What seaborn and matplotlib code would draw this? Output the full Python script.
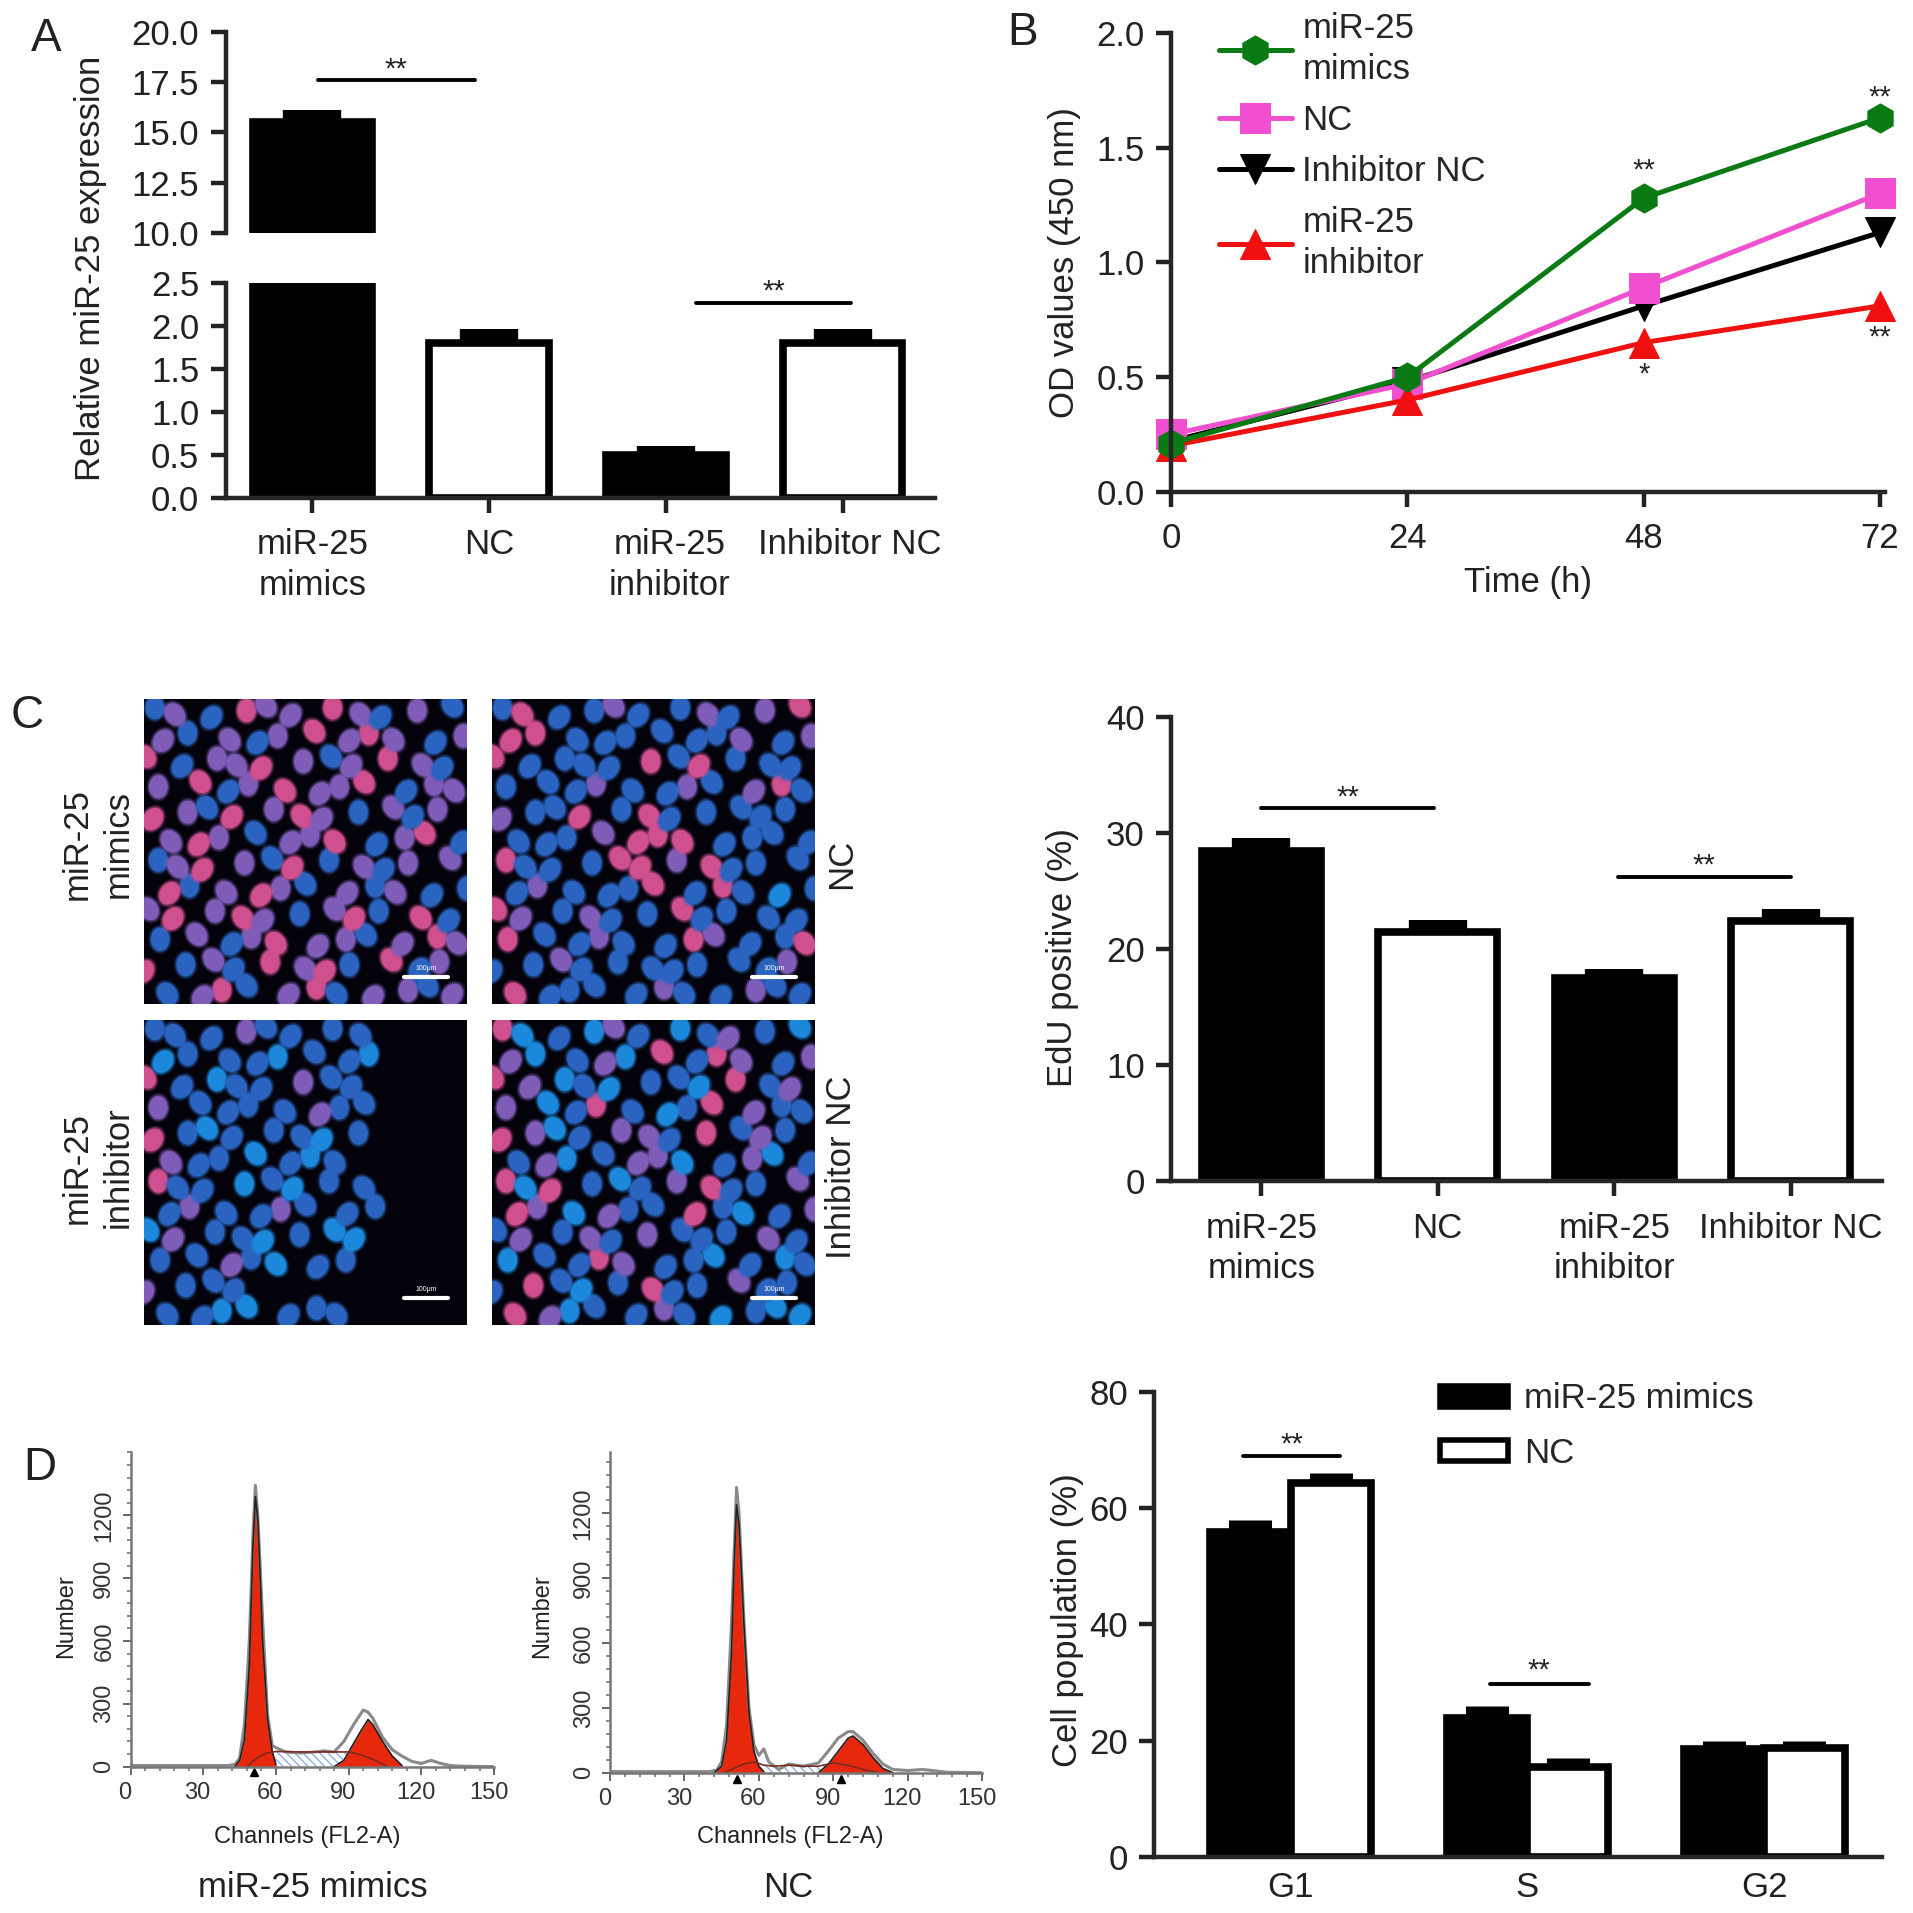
import matplotlib
matplotlib.use("Agg")
import matplotlib.pyplot as plt
from matplotlib.patches import Patch
from matplotlib.path import Path
from matplotlib.transforms import Affine2D, ScaledTranslation
import pandas as pd
import seaborn as sns

# values
groups = ["miR-25\nmimics", "NC", "miR-25\ninhibitor", "Inhibitor NC"]
mir_vals = [15.5, 1.80, 0.50, 1.80]
mir_err = [0.6, 0.16, 0.10, 0.16]
edu_vals = [28.5, 21.5, 17.5, 22.4]
edu_err = [1.1, 1.0, 0.8, 1.1]

time_h = [0, 24, 48, 72]
od_mimics = [0.21, 0.50, 1.28, 1.63]
od_nc = [0.25, 0.47, 0.89, 1.30]
od_inh_nc = [0.22, 0.48, 0.81, 1.13]
od_inhibitor = [0.20, 0.40, 0.65, 0.81]

phases = ["G1", "S", "G2"]
pop_mimics = [55.9, 23.9, 18.5]
pop_mimics_err = [2.1, 2.1, 1.5]
pop_nc = [64.3, 15.5, 18.7]
pop_nc_err = [1.7, 1.5, 1.3]

# flow histograms, channel / count pairs
ch1 = [0, 40, 43, 45, 47, 49, 50.5, 51.5, 52.5, 54.5, 56.5, 58.5, 61, 64, 70, 76, 80, 84, 88, 92, 96, 98, 100, 104, 108, 112, 116, 120, 124, 128, 132, 136, 150]
num1 = [5, 5, 10, 40, 200, 600, 1100, 1343, 1200, 700, 250, 100, 85, 70, 65, 70, 75, 70, 120, 200, 270, 260, 230, 140, 80, 50, 25, 15, 30, 15, 5, 2, 0]
g1_ch1 = [43, 45, 47, 49, 50.5, 51.5, 52.5, 53.5, 54.5, 56.5, 58.5, 60]
g1_num1 = [0, 30, 130, 480, 1050, 1290, 1180, 900, 600, 230, 70, 10]
g2_ch1 = [84, 88, 90, 92, 95, 98, 100, 104, 108, 112]
g2_num1 = [0, 30, 70, 110, 170, 225, 200, 120, 50, 5]
s_ch1 = [48, 52, 56, 60, 70, 78, 84, 90, 94, 100, 106]
s_num1 = [0, 40, 65, 72, 70, 70, 70, 70, 60, 35, 0]
ch2 = [0, 40, 43, 45, 47, 49, 51, 52, 54, 56, 58, 60, 62, 64, 68, 72, 78, 84, 88, 92, 96, 98, 102, 106, 110, 114, 120, 126, 130, 136, 150]
num2 = [5, 5, 12, 50, 220, 700, 1320, 1200, 700, 300, 130, 80, 110, 50, 15, 40, 30, 45, 100, 160, 190, 190, 150, 90, 40, 15, 10, 15, 10, 2, 0]
g1_ch2 = [42, 45, 47, 49, 50, 51, 52, 54, 56, 58, 60, 62]
g1_num2 = [0, 30, 150, 560, 950, 1240, 1150, 680, 280, 100, 30, 5]
g2_ch2 = [84, 88, 92, 96, 98, 102, 106, 110, 114]
g2_num2 = [0, 40, 100, 160, 170, 130, 70, 20, 0]
s_ch2 = [46, 50, 54, 58, 62, 66, 72, 78, 84, 90, 96, 102, 108]
s_num2 = [0, 20, 40, 50, 35, 30, 35, 30, 30, 45, 35, 15, 0]

# nuclei maps of the four micrographs, p pink, m purple, b blue, c cyan
img_mimics = ["bmbpmmpmbmb", "mbmbmpmpmbm", "pbmmpmbmpmb", "mpbmpmmpbmm", "pmbpmpmbmbm", "mpmbmmpbmpb",
              "bmpmbpbmbmm", "pbmpmbmbmbb", "mpmpmbmpbpb", "bmbmpmmbmpm", "pbmbpmpbpbm", "bmpbmpbmmbm"]
img_nc = ["bpbbmbbmbmp", "ppbbbbbbmbm", "pbbbbpbpbbb", "bbbmbbmbmpb", "mbbpbpbbbbb", "bbbmpppbbbb",
          "pbbbppmpbbb", "bmbbbpbpbcb", "pmbmbbpbbbb", "pbbmbbpmbbp", "bbmbbbbbbbm", "pbbbbmbbmbb"]
img_inh = ["bbbmbbbb...", "cbbbcbbc...", "pbcbbmbb...", "mbbbbmbb...", "pbcbbbcb...", "mbbcbcb....",
           "pbbcbcbb...", "bmbbmbbb...", "cmbbcbcc...", "bbmbcbb....", "mbbb.......", "bbccbbb...."]
img_inh_nc = ["pcbcmbcbmbc", "mcbmcpbpmbm", "pmcbcbbcpbm", "mcbpbcbpmbb", "pmcbmmbpbmb", "bmcbmmcbmcb",
              "pcpbcbmpbbm", "pmcmbbpbcbm", "bmbmbmbbbmb", "cbbpmbbcbcb", "bpbcbpbbmbb", "pmcbbmbcbcc"]

nuc_colors = {"p": "#cf4f8f", "m": "#7f5cb8", "b": "#2a64c0", "c": "#1c88dc"}
nudge_x = [0.12, -0.2, 0.05, 0.24, -0.1, -0.26, 0.17]
nudge_y = [-0.16, 0.1, 0.22, -0.05, -0.24, 0.14]

S = 1568.0  # layout numbers below are on a 1568 wide sheet
sns.set_style("ticks")
plt.rcParams["font.family"] = ["Liberation Sans", "DejaVu Sans"]
fs = 25
fig = plt.figure(figsize=(19.13, 19.13), dpi=100)


def box(x0, y0, x1, y1):
    return fig.add_axes([x0 / S, 1 - y1 / S, (x1 - x0) / S, (y1 - y0) / S])


def label(x, y, s, size=fs, **kw):
    fig.text(x / S, 1 - y / S, s, fontsize=size, ha="center", va="center", color="#222222", **kw)


def style_ax(ax):
    sns.despine(ax=ax)
    for side in ["left", "bottom"]:
        ax.spines[side].set_linewidth(3.2)
    ax.tick_params(width=3.2, length=11, labelsize=fs, colors="#222222")
    ax.tick_params(axis="x", pad=11)
    ax.tick_params(axis="y", pad=8)


def draw_bars(ax, names, vals, errs):
    df = pd.DataFrame({"group": names, "value": vals})
    sns.barplot(data=df, x="group", y="value", hue="group", palette=["black", "white", "black", "white"],
                saturation=1, edgecolor="black", linewidth=5.5, width=0.675, legend=False, ax=ax)
    ax.errorbar(range(len(names)), vals, yerr=[[0] * len(vals), errs], fmt="none", ecolor="black",
                elinewidth=42, capsize=0)
    ax.set_xlabel("")
    ax.set_ylabel("")
    style_ax(ax)


def sig(ax, x0, x1, y, star_y, stars="**"):
    ax.plot([x0, x1], [y, y], color="black", lw=2.8, clip_on=False)
    ax.text((x0 + x1) / 2, star_y, stars, ha="center", va="center", fontsize=21, color="#222222", clip_on=False)


# A, broken axis
ax_low = box(185, 232, 766, 408)
ax_top = box(185, 26, 766, 191)
for ax in [ax_low, ax_top]:
    draw_bars(ax, groups, mir_vals, mir_err)
    ax.set_xlim(-0.49, 3.52)
ax_low.set_ylim(0, 2.5)
ax_low.set_yticks([0, 0.5, 1, 1.5, 2, 2.5])
ax_low.set_yticklabels(["0.0", "0.5", "1.0", "1.5", "2.0", "2.5"])
ax_top.set_ylim(10, 20)
ax_top.set_yticks([10, 12.5, 15, 17.5, 20])
ax_top.set_yticklabels(["10.0", "12.5", "15.0", "17.5", "20.0"])
ax_top.spines["bottom"].set_visible(False)
ax_top.set_xticks([])
ax_low.set_xticks(range(4))
ax_low.set_xticklabels(groups, linespacing=1.3)
for t, px in zip(ax_low.get_xticklabels()[2:], [3, 6]):
    t.set_transform(t.get_transform() + ScaledTranslation(px * 1.22 / 100, 0, fig.dpi_scale_trans))
sig(ax_top, 0.03, 0.92, 17.6, 18.1)
sig(ax_low, 2.17, 3.05, 2.27, 2.4)
label(74, 220, "Relative miR-25 expression", rotation=90)

# B, growth curves
ax_b = box(960, 27, 1545, 403)
b_series = [("Inhibitor NC", od_inh_nc, "black", "v"), ("NC", od_nc, "#f050d0", "s"),
            ("miR-25\ninhibitor", od_inhibitor, "#f01010", "^"), ("miR-25\nmimics", od_mimics, "#0a7a14", "h")]
for name, vals, col, mark in b_series:
    sns.lineplot(x=time_h, y=vals, color=col, marker=mark, markersize=21, markeredgecolor=col,
                 linewidth=3.6, label=name, ax=ax_b, clip_on=False)
ax_b.set_xlim(0, 72.5)
ax_b.set_ylim(0, 2)
ax_b.set_xticks(time_h)
ax_b.set_yticks([0, 0.5, 1, 1.5, 2])
ax_b.set_yticklabels(["0.0", "0.5", "1.0", "1.5", "2.0"])
ax_b.set_xlabel("Time (h)", fontsize=fs, color="#222222", labelpad=8)
ax_b.set_ylabel("OD values (450 nm)", fontsize=fs, color="#222222", labelpad=11)
style_ax(ax_b)
hd, lb = ax_b.get_legend_handles_labels()
order = [3, 1, 0, 2]
leg = ax_b.legend([hd[i] for i in order], [lb[i] for i in order], loc="upper left", bbox_to_anchor=(0.023, 1.113),
                  frameon=False, fontsize=fs, handlelength=2.1, handletextpad=0.3, labelspacing=0.52)
for t in leg.get_texts():
    t.set_linespacing(1.3)
ax_b.text(48, 1.40, "**", ha="center", va="center", fontsize=21)
ax_b.text(72, 1.72, "**", ha="center", va="center", fontsize=21, clip_on=False)
ax_b.text(48, 0.51, "*", ha="center", va="center", fontsize=21)
ax_b.text(72, 0.67, "**", ha="center", va="center", fontsize=21, clip_on=False)

# C, micrographs
panels = [(img_mimics, 118, 573, 383, 823), (img_nc, 403, 573, 668, 823),
          (img_inh, 118, 836, 383, 1086), (img_inh_nc, 403, 836, 668, 1086)]
tilts = [0, 35, -35]
for rows, x0, y0, x1, y1 in panels:
    ax = box(x0, y0, x1, y1)
    ax.set_facecolor("#04030c")
    cells = []
    for r, row in enumerate(rows):
        for c, ch in enumerate(row):
            if ch != ".":
                n = r * 11 + c
                cells.append((c + 0.5 + 0.25 * (r % 2 * 2 - 1) + nudge_x[n % 7], r + 0.5 + nudge_y[n % 6], ch, n % 3))
    nuc = pd.DataFrame(cells, columns=["col", "row", "kind", "tilt"])
    for i, deg in enumerate(tilts):
        shape = Path.unit_circle().transformed(Affine2D().scale(0.8, 1.0).rotate_deg(deg))
        part = nuc[nuc["tilt"] == i]
        for size, alpha in [(450, 0.22), (360, 0.45), (280, 1.0)]:
            sns.scatterplot(data=part, x="col", y="row", hue="kind", palette=nuc_colors, s=size, linewidth=0,
                            alpha=alpha, marker=shape, legend=False, ax=ax)
    ax.plot([8.85, 10.35], [10.95, 10.95], color="white", lw=3)
    ax.text(9.6, 10.6, "100μm", color="white", fontsize=5, ha="center", va="center")
    ax.set_xlim(0, 11)
    ax.set_ylim(12, 0)
    ax.set_xticks([])
    ax.set_yticks([])
    ax.set_xlabel("")
    ax.set_ylabel("")
    for sp in ax.spines.values():
        sp.set_visible(False)
label(80, 692, "miR-25\nmimics", rotation=90, linespacing=1.3)
label(690, 708, "NC", rotation=90)
label(80, 957, "miR-25\ninhibitor", rotation=90, linespacing=1.3)
label(690, 957, "Inhibitor NC", rotation=90)

# C, EdU bars
ax_c = box(960, 588, 1543, 968)
draw_bars(ax_c, groups, edu_vals, edu_err)
ax_c.set_xlim(-0.51, 3.52)
ax_c.set_ylim(0, 40)
ax_c.set_yticks([0, 10, 20, 30, 40])
ax_c.set_xticks(range(4))
ax_c.set_xticklabels(groups, linespacing=1.3)
sig(ax_c, 0, 0.98, 32.2, 33.1)
sig(ax_c, 2.02, 3.0, 26.2, 27.2)
label(871, 785, "EdU positive (%)", rotation=90)


# D, flow histograms
def flow(ax, ch, num, g1_ch, g1_num, g2_ch, g2_num, s_ch, s_num, marks, ymax):
    ax.fill_between(s_ch, 0, s_num, facecolor="white", edgecolor="#8fb0e6", hatch="\\\\\\\\", linewidth=0)
    sns.lineplot(x=ch, y=num, color="#8a8a8a", linewidth=2.2, ax=ax)
    ax.fill_between(g1_ch, 0, g1_num, color="#e8280c", linewidth=0)
    ax.fill_between(g2_ch, 0, g2_num, color="#e8280c", linewidth=0)
    sns.lineplot(x=g1_ch, y=g1_num, color="#222222", linewidth=1.2, ax=ax)
    sns.lineplot(x=g2_ch, y=g2_num, color="#222222", linewidth=1.2, ax=ax)
    sns.lineplot(x=s_ch, y=s_num, color="#7a2a20", linewidth=1.2, ax=ax)
    ax.plot(marks, [-28] * len(marks), linestyle="none", marker="^", color="black", markersize=6, clip_on=False)
    ax.set_xlim(0, 150)
    ax.set_ylim(0, ymax)
    ax.set_xticks([0, 30, 60, 90, 120, 150])
    ax.set_yticks([0, 300, 600, 900, 1200])
    ax.set_xticks(range(0, 151, 6), minor=True)
    ax.set_yticks(range(0, int(ymax), 60), minor=True)
    sns.despine(ax=ax)
    for side in ["left", "bottom"]:
        ax.spines[side].set_color("#777777")
        ax.spines[side].set_linewidth(1.8)
    ax.tick_params(which="major", length=6, width=1.4, color="#666666", labelsize=17, labelcolor="#333333", pad=5)
    ax.tick_params(which="minor", length=3, width=1.4, color="#888888")
    ax.tick_params(axis="y", labelrotation=90)
    for t in ax.get_yticklabels():
        t.set_va("center")
    shift = ScaledTranslation(-4 / 72, 0, fig.dpi_scale_trans)
    for t in ax.get_xticklabels():
        t.set_transform(t.get_transform() + shift)


flow(box(107, 1190, 405, 1448), ch1, num1, g1_ch1, g1_num1, g2_ch1, g2_num1, s_ch1, s_num1, [51, ], 1503)
flow(box(500, 1190, 805, 1453), ch2, num2, g1_ch2, g1_num2, g2_ch2, g2_num2, s_ch2, s_num2, [51, 93], 1485)
label(54, 1325, "Number", size=17, rotation=90)
label(444, 1325, "Number", size=17, rotation=90)
label(252, 1506, "Channels (FL2-A)", size=17)
label(648, 1506, "Channels (FL2-A)", size=17)
label(256, 1547, "miR-25 mimics")
label(646, 1547, "NC")

# D, cell cycle bars
ax_d = box(946, 1141, 1543, 1522)
cycle = pd.DataFrame({"phase": phases * 2, "value": pop_mimics + pop_nc,
                      "series": ["miR-25 mimics"] * 3 + ["NC"] * 3})
sns.barplot(data=cycle, x="phase", y="value", hue="series", palette=["black", "white"], saturation=1,
            edgecolor="black", linewidth=5.5, width=0.68, gap=0, legend=False, ax=ax_d)
for off, vals, errs in [(-0.17, pop_mimics, pop_mimics_err), (0.17, pop_nc, pop_nc_err)]:
    ax_d.errorbar([i + off for i in range(3)], vals, yerr=[[0] * 3, errs], fmt="none", ecolor="black",
                  elinewidth=31, capsize=0)
ax_d.set_xlim(-0.577, 2.5)
ax_d.set_ylim(0, 80)
ax_d.set_yticks([0, 20, 40, 60, 80])
ax_d.set_xlabel("")
ax_d.set_ylabel("")
style_ax(ax_d)
ax_d.tick_params(axis="x", length=0, pad=10)
ax_d.legend(handles=[Patch(facecolor="black", edgecolor="black", linewidth=4, label="miR-25 mimics"),
                     Patch(facecolor="white", edgecolor="black", linewidth=4, label="NC")],
            loc="upper left", bbox_to_anchor=(0.35, 1.088), frameon=False, fontsize=fs, handlelength=1.95,
            handleheight=0.55, handletextpad=0.45, labelspacing=0.62)
sig(ax_d, -0.2, 0.21, 69, 71)
sig(ax_d, 0.84, 1.26, 29.8, 32)
label(875, 1328, "Cell population (%)", rotation=90)

# panel letters
label(38, 32, "A", size=33)
label(838, 27, "B", size=33)
label(22, 587, "C", size=33)
label(33, 1203, "D", size=33)

fig.savefig("out.png", dpi=100, facecolor="white")
